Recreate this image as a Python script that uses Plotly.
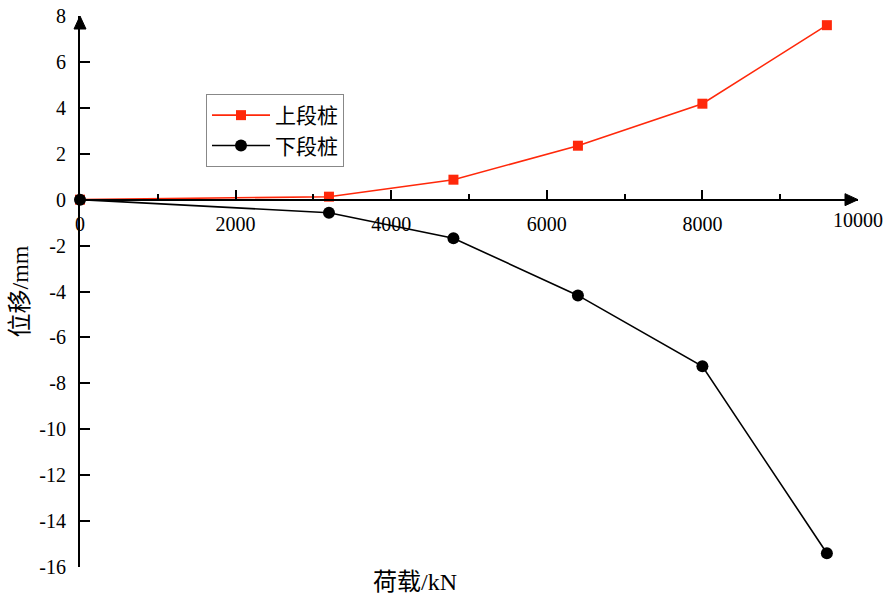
import plotly.graph_objects as go

# Load (kN) and displacement (mm) for the upper and lower pile segments
load = [0, 3200, 4800, 6400, 8000, 9600]
upper_disp = [0.0, 0.13, 0.87, 2.35, 4.18, 7.6]
lower_disp = [0.0, -0.57, -1.68, -4.17, -7.26, -15.4]

x_major = [0, 2000, 4000, 6000, 8000]
x_minor = [1000, 3000, 5000, 7000, 9000]
x_end = 10000
y_ticks = [-16, -14, -12, -10, -8, -6, -4, -2, 0, 2, 4, 6, 8]

RED = "rgb(255,40,10)"
FONT = "Liberation Serif, Times New Roman, Noto Sans CJK SC, serif"

fig = go.Figure()
fig.add_trace(go.Scatter(
    x=load, y=upper_disp, name="上段桩", mode="lines+markers",
    line=dict(color=RED, width=1.6),
    marker=dict(symbol="square", size=10, color=RED),
    cliponaxis=False,
))
fig.add_trace(go.Scatter(
    x=load, y=lower_disp, name="下段桩", mode="lines+markers",
    line=dict(color="black", width=1.6),
    marker=dict(symbol="circle", size=12, color="black"),
    cliponaxis=False,
))

# x axis crosses the y axis at zero
y_lo, y_hi = -16, 8
zero_pos = (0 - y_lo) / (y_hi - y_lo)

fig.update_layout(
    width=887, height=603,
    margin=dict(l=80, r=29, t=16, b=36, autoexpand=False),
    paper_bgcolor="white", plot_bgcolor="white",
    font=dict(family=FONT, size=20, color="black"),
    showlegend=True,
    legend=dict(
        x=(206 - 80) / 778, y=(567 - 94) / 551, xanchor="left", yanchor="top",
        bordercolor="#888888", borderwidth=1, bgcolor="white",
        font=dict(size=21, family=FONT), itemwidth=58, tracegroupgap=0,
    ),
    xaxis=dict(
        range=[0, x_end], anchor="free", position=zero_pos, automargin=False,
        tickmode="array", tickvals=x_major, ticktext=[str(v) for v in x_major],
        ticks="inside", ticklen=9, tickwidth=1.5, tickcolor="black",
        ticklabelstandoff=6,
        minor=dict(tickmode="array", tickvals=x_minor, ticks="inside",
                   ticklen=5, tickwidth=1.5, tickcolor="black"),
        showline=True, linecolor="black", linewidth=2,
        showgrid=False, zeroline=False,
        tickfont=dict(size=20, family=FONT),
    ),
    xaxis2=dict(
        range=[0, x_end], overlaying="x", matches="x", anchor="free",
        position=zero_pos, side="bottom", automargin=False,
        tickmode="array", tickvals=[x_end], ticktext=[str(x_end)], ticks="",
        ticklabelstandoff=6,
        showline=False, showgrid=False, zeroline=False,
        tickfont=dict(size=20, family=FONT),
    ),
    yaxis=dict(
        range=[y_lo, y_hi], automargin=False,
        tickmode="array", tickvals=y_ticks, ticktext=[str(v) for v in y_ticks],
        ticks="inside", ticklen=10, tickwidth=1.5, tickcolor="black",
        ticklabelstandoff=8,
        showline=True, linecolor="black", linewidth=2,
        showgrid=False, zeroline=False,
        tickfont=dict(size=20, family=FONT),
        title=dict(text="位移/mm", font=dict(size=24, family=FONT), standoff=4),
    ),
)

# invisible trace so the secondary x axis is drawn
fig.add_trace(go.Scatter(x=[x_end], y=[0], xaxis="x2", mode="markers",
                         marker=dict(opacity=0), showlegend=False,
                         hoverinfo="skip"))

# arrowheads at the positive ends of both axes (paper refs so they are not clipped)
fig.add_shape(type="path", xref="paper", yref="paper", xsizemode="pixel", ysizemode="pixel",
              xanchor=1, yanchor=zero_pos,
              path="M 0 0 L -13 6 L -13 -6 Z",
              fillcolor="black", line=dict(color="black", width=1))
fig.add_shape(type="path", xref="paper", yref="paper", xsizemode="pixel", ysizemode="pixel",
              xanchor=0, yanchor=1,
              path="M 0 0 L -6 -13 L 6 -13 Z",
              fillcolor="black", line=dict(color="black", width=1))

fig.add_annotation(text="荷载/kN", xref="paper", yref="paper",
                   x=(415 - 80) / 778, y=(567 - 582) / 551,
                   xanchor="center", yanchor="middle", showarrow=False,
                   font=dict(size=24, family=FONT))

fig.write_html("out.html")
